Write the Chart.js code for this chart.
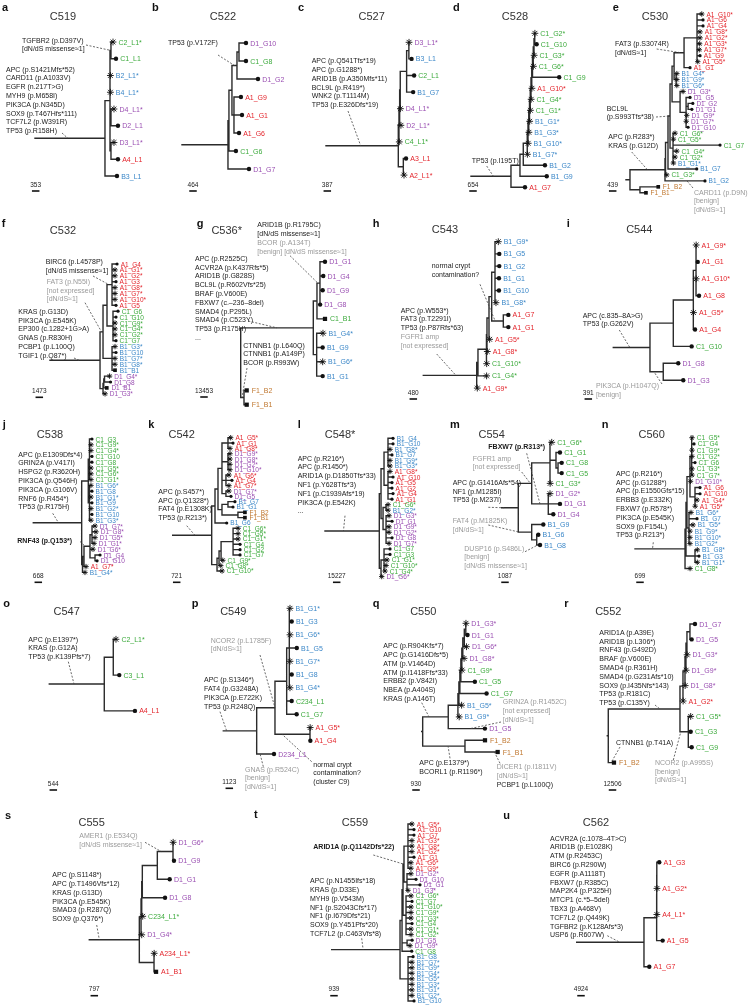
<!DOCTYPE html>
<html><head><meta charset="utf-8">
<script src="https://cdn.jsdelivr.net/npm/chart.js@4.4.1/dist/chart.umd.min.js"></script>
<style>
html,body{margin:0;padding:0;background:#fff;}
#page{position:relative;width:748px;height:1006px;overflow:hidden;font-family:"Liberation Sans",Arial,Helvetica,sans-serif;}
canvas.tree{position:absolute;left:0;top:0;}
.t{position:absolute;white-space:pre;}
.lt{font-weight:bold;font-size:11px;line-height:12px;color:#111;}
.ti{font-size:11px;line-height:12px;color:#333;transform:translateX(-50%);}
.nt{font-size:7px;line-height:8.8px;color:#1a1a1a;}
.gr{color:#9a9a9a;}
.bd{font-weight:bold;}
.tl{line-height:9px;}
.sb{font-size:6.5px;line-height:8px;color:#222;transform:translateX(-50%);}
</style></head><body><div id="page"></div><script>
// ---------------- DATA ----------------
const panelLetters = ['a','b','c','d','e','f','g','h','i','j','k','l','m','n','o','p','q','r','s','t','u'];
const panelTitles = ['C519','C522','C527','C528','C530','C532','C536*','C543','C544','C538','C542','C548*','C554','C560','C547','C549','C550','C552','C555','C559','C562'];
const scaleBarSNVs = [353,464,387,654,439,1473,13453,480,391,668,721,15227,1087,699,544,1123,930,12506,797,939,4924];
// trees in Newick; branch lengths in scale-bar units
const treeC519 = "(((C2_L1*:0.27,C1_L1:0.67)n1:0.13,B2_L1*:0.05,B4_L1*:0.05,(D4_L1*:0.4,D2_L1:0.93):0.13,(D3_L1*:0.4,A4_L1:0.93):0.13):0.67,B3_L1:1.6):9.33;";
const treeC522 = "(((((D1_G10:0.93,C1_G8:0.93):0.27,D1_G2:2.8)nV:0.67,(A1_G9:0.93,A1_G1:1.07,A1_G6:0.67):0.27):0.4,C1_G6:0.93):0.13,D1_G7:2.8):6.13;";
const treeC527 = "((((((D3_L1*:0.02,B3_L1:0.36):0.3,C2_L1:1.0,B1_G7:0.87):0.85,D4_L1*:0.02):0.08,D2_L1*:0.17):0.09,C4_L1*:0.04):0.09,(A3_L1:0.36,A2_L1*:0.09):0.67):9.64;";
const treeC528 = "((((((((((((((C1_G2*:0.02,C1_G10:0.25):0.1,C1_G3*:0.02):0.1,C1_G6*:0.02):0.1,C1_G9:3.56):0.1,A1_G10*:0.02):0.1,C1_G4*:0.02):0.1,C1_G1*:0.02):0.1,B1_G1*:0.02):0.1,B1_G3*:0.02):0.1,B1_G10*:0.02):0.1,B1_G7*:0.02):0.53,B1_G2:2.89):0.44,B1_G9:3.57):1.2,A1_G7:1.87):5.33;";
const treeC530 = "(((((((((A1_G10*:0.63,A1_G6:0.8,A1_G4:0.8,A1_G8*:0.4,A1_G2*:0.4,A1_G3*:0.35,A1_G7*:0.3,A1_G9:0.4,A1_G5*:0.1):1.73,A1_G1:0.8)nA:1.33,(B1_G4*:0.1,B1_G9*:0.1,B1_G6*:0.1):0.27):0.27,(D1_G3*:0.4,(D1_G5:0.53,(D1_G2:0.63,D1_G1:0.5):0.27,D1_G9*:0.09,D1_G7*:0.02,D1_G10:0.27):0.8):1.07):0.27,(C1_G6*:0.27,C1_G5*:0.05,C1_G7:6.27,C1_G4*:0.5,C1_G2*:0.27,B1_G1*:0.05):0.4)nX3:0.27,B1_G7:3.83):0.33,C1_G3*:0.16):0.07,B1_G2:5.33)nT:4.67,(F1_B2:2.44,F1_B1:0.8):1.33):0.53;";
const treeC532 = "((((A1_G4:0.67,A1_G1*:0.4,A1_G2*:0.4,A1_G3:0.53,A1_G8*:0.4,A1_G7*:0.4,A1_G10*:0.4,A1_G5:0.53)nA:0.67,(C1_G6:0.67,C1_G10:0.4,C1_G9*:0.27,C1_G4*:0.27,C1_G2*:0.27,C1_G7:0.4):0.8):0.53,(B1_G3*:0.4,B1_G10:0.53,B1_G7*:0.4,B1_G8*:0.4,B1_B1:0.4):1.2)nU:0.4,(((D1_G4*:0.67,D1_G8:0.8):0.1,D1_B1:0.4):0.1,D1_G3*:0.27):0.4):6.67;";
const treeC536 = "((((D1_G1:0.67,D1_G4:0.44,D1_G9:0.36,D1_G8:0.02)nD:0.4,C1_B1:1.07):0.49,(B1_G4*:0.84,B1_G9:0.8,B1_G6*:0.8,B1_G1:0.8):0.45)nT:9.68,(F1_B2:0.36,F1_B1:0.36)nF:0.44):0;";
const treeC543 = "(((((((B1_G9*:0.44,B1_G5:0.57,B1_G2:0.57,B1_G1:0.53,B1_G10:0.53,B1_G8*:0.13):0.44,(A1_G7:0.67,A1_G1:0.67)nAc:1.55):0.36,A1_G5*:0.08):0.27,A1_G8*:0.04):0.07,C1_G10*:0.03):1.13,C1_G4*:1.15):0.17,A1_G9*:0.08):7.12;";
const treeC544 = "((((A1_G9*:0.02,A1_G1:0.23,A1_G10*:0.02,A1_G8:0.4):0.36,A1_G5*:0.02,A1_G4:0.23):2.67,C1_G10:2.45):3.11,(D1_G8:2.0,D1_G3:2.67)nD:1.77):4.89;";
const treeC538 = "(((C1_G3:0.33,C1_G9*:0.2,C1_G4*:0.2,C1_G10:0.33,C1_G8:0.33,C1_G5*:0.2,C1_G6*:0.2,C1_G1*:0.2):0.16,(B1_G6*:0.2,B1_G8:0.33,B1_G1*:0.2,B1_G9:0.33,B1_G2*:0.2,B1_G10:0.33,B1_G3*:0.2):0.16):0.88,((((D1_G7*:0.4,D1_G8*:0.53,D1_G5*:0.4,D1_G1*:0.27):0.27,D1_G6*:0.4,(D1_G4:0.67,D1_G10:0.27):0.67)nDs:0.8,A1_G7*:0.27):0.2,B1_G4*:0.33):0.11):6.45;";
const treeC542 = "(((((A1_G5*:0.36,A1_G1:0.67,A1_G8*:0.27):0.8,(D1_G9*:0.27,D1_G8*:0.27,D1_G2*:0.27,D1_G10*:0.27):0.8,(A1_G6*:0.4,A1_G4:0.8,A1_G7*:0.4):0.53,(D1_G7*:0.4,D1_G5:0.67):0.53):0.53,((B1_G7:0.93,B1_G1:0.67):0.8,(F1_B2:0.93,F1_B1:0.93):2.13):0.53):0.4,B1_G6:1.56):0.44,((((C1_G6*:0.67,C1_G5*:0.67,C1_G1*:0.67,C1_G4:0.93,C1_G2:0.93,C1_G7:0.93):1.6,C1_G9*:0.23):0.27,C1_G8*:0.23):0.27,C1_G10*:0.67):0.71):5.2;";
const treeC548 = "((((B1_G4:0.67,B1_G10:0.67,B1_G8*:0.27,B1_G7:0.53,B1_G9*:0.27,B1_G3*:0.27):0.53,(A1_G8*:0.27,A1_G10:0.67,A1_G5:0.53,A1_G2:0.53,A1_G4:0.67,A1_G1:0.53):0.53):0.4,((C1_G6*:0.27,B1_G2*:0.27):0.4,(D1_G3*:0.4,D1_G1:0.8,D1_G9*:0.4,D1_G2*:0.4,D1_G8:0.8,D1_G7*:0.4):0.4):0.27):0.23,((C1_G7:0.8,C1_G3:0.8,C1_G1*:0.4,C1_G10*:0.27,C1_G4*:0.13):0.4,D1_G6*:0.09):0.23):7.24;";
const treeC554 = "(((C1_G6*:0.23,(C1_G1:0.53,(C1_G8:0.49,C1_G5:0.49):0.27):0.8,C1_G3*:0.02):2.44,(D1_G2*:0.23,D1_G1:1.56,D1_G4:0.67)nD:2.21)nCD:1.79,(B1_G9:1.55,(B1_G6:0.21,B1_G8:0.44):0.67)nB:1.79):2.21;";
const treeC560 = "(((((C1_G5*:0.04,C1_G4:0.31,C1_G9*:0.04,C1_G2*:0.04,C1_G6:0.44,C1_G3*:0.04,C1_G7*:0.04):0.23,D1_G10*:0.07,(A1_G6:0.67,A1_G10:0.67,A1_G4*:0.27,A1_G5*:0.02):0.67):0.4,(B1_G6*:0.27,B1_G7:1.07,B1_G5*:0.53,B1_G9*:0.13,B1_G10*:0.13,B1_G2*:0.13):0.27):0.13,(B1_G8*:0.31,B1_G3:0.53,B1_G1*:0.31):1.2):0.13,C1_G8*:0.67):6.67;";
const treeC547 = "((C2_L1*:0.36,C3_L1:0.8):1.2,A4_L1:4.09):7.33;";
const treeC549 = "((((B1_G1*:0.09,B1_G3:0.32,B1_G6*:0.09,B1_G5:1.0,B1_G7*:0.09,B1_G8:0.32,B1_G4*:0.09):0.35,C234_L1:0.67,C1_G7:1.33):1.56,(A1_G5*:0.02,A1_G4:0.05)nAc:4.67)nU:2.44,D234_L1:2.31):4.45;";
const treeC550 = "((((((((((D1_G3*:0.02,D1_G1:0.23):0.2,D1_G6*:0.29):0.2,D1_G8*:0.17):0.13,C1_G9*:0.02):0.13,C1_G5:1.87):0.13,C1_G7:3.56):0.13,B1_G5*:0.36):0.13,B1_G9*:0.17):1.29,D1_G5:4.89)nT:3.41,(F1_B2:2.67,F1_B1:4.36)nF:5.64):0.13;";
const treeC552 = "(((((((D1_G7:0.67,D1_G5:0.23):0.4,D1_G3*:0.02):0.13,D1_G9*:0.02):0.13,D1_G8*:0.02):0.27,A1_G2*:0.02):0.4,(C1_G5*:0.32,C1_G3:0.32,C1_G9:0.45)nC:1.11)nT:9.56,F1_B2:0.76):0.13;";
const treeC555 = "((((((D1_G6*:0.02,D1_G9:0.13)nD12:2.09,D1_G1:1.65):2.0,D1_G8:3.03):0.08,C234_L1*:0.13):0.09,D1_G4*:0.09):0.23,(A234_L1*:0.02,A1_B1:0.27):1.96):6.67;";
const treeC559 = "(((((A1_G5*:0.53,A1_G10:0.8,A1_G7:0.8,A1_G3*:0.53,A1_G8*:0.53,A1_G2*:0.53,A1_G1:0.8,A1_G6*:0.4,A1_G9*:0.4):0.53,(D1_G2*:0.53,D1_G10:1.2,D1_G1:1.73,D1_G3*:0.13):0.4)nAD:0.13,(C1_G6*:0.67,C1_G7:0.8,C1_G10*:0.67,C1_G9*:0.67,C1_G3*:0.67,C1_G4:0.8,C1_G1*:0.67,C1_G2*:0.67):0.4):0.13,(D1_G5:0.67,D1_G9*:0.4):0.67,C1_G8:1.29):0.27,(B1_G8:0.67,B1_G7*:0.53,B1_G9*:0.53,B1_G4*:0.53,B1_G5*:0.53,B1_G3*:0.53,B1_G1*:0.53,B1_G2*:0.53,B1_G10:0.8):1.07):9.11;";
const treeC562 = "((((A1_G3:0.33,A1_G2*:0.02):0.01,A4_L1*:0.02):0.01,A1_G5:0.8):1.69,A1_G7:0.71):8.97;";
const trees = [treeC519,treeC522,treeC527,treeC528,treeC530,treeC532,treeC536,treeC543,treeC544,treeC538,treeC542,treeC548,treeC554,treeC560,treeC547,treeC549,treeC550,treeC552,treeC555,treeC559,treeC562];

// ---------------- LAYOUT (page positions) ----------------
const PX_PER_UNIT = 7.5;
const G = 'g';
const LAYOUT = [
 {rootX:35,tip0:42,dy:16.75,letter:[2,7],title:[63,16],bar:[35.7,191],notes:[
   {x:22,y:41,l:["TGFBR2 (p.D397V)","[dN/dS missense≈1]"],lead:[86,45,'n1',0.5]},
   {x:6,y:70,l:["APC (p.S1421Mfs*52)","CARD11 (p.A1033V)","EGFR (n.217T>G)","MYH9 (p.M658I)","PIK3CA (p.N345D)","SOX9 (p.T467Hfs*111)","TCF7L2 (p.W391R)","TP53 (p.R158H)"],lead:[62,133,'root',0.47]}]},
 {rootX:182,tip0:43,dy:18,letter:[152,7],title:[223,16],bar:[193,191],notes:[
   {x:168,y:43,l:["TP53 (p.V172F)"],lead:[218,55,'nV',0.5]}]},
 {rootX:326,tip0:42.3,dy:16.6,letter:[298,7],title:[371.7,16],bar:[327.3,191],notes:[
   {x:311.7,y:61.7,l:["APC (p.Q541Tfs*19)","APC (p.G1288*)","ARID1B (p.A350Mfs*11)","BCL9L (p.R419*)","WNK2 (p.T1114M)","TP53 (p.E326Dfs*19)"],lead:[348,111,'root',0.48]}]},
 {rootX:471,tip0:33.3,dy:11,letter:[453,7],title:[515,16],bar:[473,191],notes:[
   {x:471.7,y:161,l:["TP53 (p.I195T)"],lead:[486.7,166,'root',0.56]}]},
 {rootX:626,tip0:14,dy:5.96,letter:[612.7,7],title:[655,16],bar:[612.7,191],notes:[
   {x:615,y:44.3,l:["FAT3 (p.S3074R)","[dN/dS≈1]"],lead:[656.7,49,'nA',0.7]},
   {x:606.7,y:109,l:["BCL9L","(p.S993Tfs*38)"],lead:[656,117,'nX3',0.8]},
   {x:608.3,y:137.3,l:["APC (p.R283*)","KRAS (p.G12D)"],lead:[631.7,152,'nT',0.5]},
   {x:694,y:193,c:G,l:["CARD11 (p.D9N)","[benign]","[dN/dS≈1]"],lead:[693,188,'B1_G2',0.55]}]},
 {rootX:50,tip0:264,dy:5.9,letter:[1.7,223.3],title:[63,230],bar:[39.3,397.3],notes:[
   {x:45.7,y:262.7,l:["BIRC6 (p.L4578P)","[dN/dS missense≈1]"],lead:[93,276,'nA',0.4]},
   {x:46.7,y:282.3,c:G,l:["FAT3 (p.N55I)","[not expressed]","[dN/dS≈1]"],lead:[85,302.7,'nU',0.5]},
   {x:18.3,y:312.3,l:["KRAS (p.G13D)","PIK3CA (p.E545K)","EP300 (c.1282+1G>A)","GNAS (p.R830H)","PCBP1 (p.L100Q)","TGIF1 (p.Q87*)"],lead:[74,358,'root',0.58]}]},
 {rootX:240.7,tip0:261.7,dy:14.3,letter:[196.7,223.3],title:[226.7,230],bar:[204,397],notes:[
   {x:257.3,y:225.7,l:["ARID1B (p.R1795C)","[dN/dS missense≈1]"]},
   {x:257.3,y:243.3,c:G,l:["BCOR (p.A134T)","[benign] [dN/dS missense≈1]"],lead:[290,255.7,'nD',0.3]},
   {x:195,y:259.3,l:["APC (p.R2525C)","ACVR2A (p.K437Rfs*5)","ARID1B (p.G828S)","BCL9L (p.R602Vfs*25)","BRAF (p.V600E)","FBXW7 (c.–236–8del)","SMAD4 (p.P295L)","SMAD4 (p.C523Y)","TP53 (p.R175H)","..."],lead:[248.3,321,'nT',0.5]},
   {x:243.3,y:346,l:["CTNNB1 (p.L640Q)","CTNNB1 (p.A149P)","BCOR (p.R993W)"],lead:[247,368,'nF',0.4]}]},
 {rootX:423.3,tip0:241.7,dy:12.2,letter:[372.7,223.3],title:[445,229.3],bar:[413.3,399],notes:[
   {x:431.7,y:266.7,l:["normal crypt","contamination?"],lead:[480,284.3,'nAc',0.3]},
   {x:400.7,y:311,l:["APC (p.W553*)","FAT3 (p.T2291I)","TP53 (p.P87Rfs*63)"],lead:[436.7,354,'root',0.61]},
   {x:400.7,y:337.4,c:G,l:["FGFR1 amp","[not expressed]"]}]},
 {rootX:613.3,tip0:245,dy:16.9,letter:[566.7,223.3],title:[639.3,229.3],bar:[588.3,399],notes:[
   {x:582.7,y:316,l:["APC (c.835–8A>G)","TP53 (p.G262V)"],lead:[619.3,330,'root',0.45]},
   {x:596,y:386.7,c:G,l:["PIK3CA (p.H1047Q)","[benign]"],lead:[662,384,'nD',0.3]}]},
 {rootX:33.3,tip0:439,dy:5.8,letter:[2.7,424.3],title:[50,434.3],bar:[38.3,582.3],notes:[
   {x:18.3,y:455,l:["APC (p.E1309Dfs*4)","GRIN2A (p.V417I)","HSPG2 (p.R3620H)","PIK3CA (p.Q546H)","PIK3CA (p.G106V)","RNF6 (p.R454*)","TP53 (p.R175H)"],lead:[52.7,513.3,'root',0.52]},
   {x:17.3,y:541,b:1,l:["RNF43 (p.Q153*)"],lead:[80,541.5,'nDs',0.2]}]},
 {rootX:172.7,tip0:437.7,dy:5.33,letter:[148.3,424.3],title:[181.7,434.3],bar:[176.7,582.3],notes:[
   {x:158.3,y:492.3,l:["APC (p.S457*)","APC (p.Q1328*)","FAT4 (p.E1308K)","TP53 (p.R213*)"],lead:[186.7,525.7,'root',0.57]}]},
 {rootX:325,tip0:438.3,dy:5.53,letter:[297.7,424.3],title:[340,434.3],bar:[336.7,582.3],notes:[
   {x:297.7,y:459,l:["APC (p.R216*)","APC (p.R1450*)","ARID1A (p.D1850Tfs*33)","NF1 (p.Y628Tfs*3)","NF1 (p.C1939Afs*19)","PIK3CA (p.E542K)","..."],lead:[345,515.7,'root',0.34]}]},
 {rootX:501.7,tip0:442.3,dy:10.27,letter:[450,424.3],title:[491.7,434.3],bar:[505,582.3],notes:[
   {x:488.3,y:447.3,b:1,l:["FBXW7 (p.R313*)"],lead:[526.7,453.3,'nD',0.5]},
   {x:472.7,y:459,c:G,l:["FGFR1 amp","[not expressed]"],lead:[521.7,472,'nCD',0.9]},
   {x:452.7,y:483.3,l:["APC (p.G1416Afs*54)","NF1 (p.M1285I)","TP53 (p.M237I)"],lead:[488.3,507.3,'root',0.15]},
   {x:452.7,y:521.7,c:G,l:["FAT4 (p.M1825K)","[dN/dS≈1]"],lead:[488.3,525,'nB',0.1]},
   {x:464.3,y:549,c:G,l:["DUSP16 (p.S486L)","[benign]","[dN/dS missense≈1]"],lead:[525,551.7,'B1_G8',0.3]}]},
 {rootX:635,tip0:437.7,dy:6.23,letter:[601.7,424.3],title:[651.7,434.3],bar:[640,582.3],notes:[
   {x:616,y:474.3,l:["APC (p.R216*)","APC (p.G1288*)","APC (p.E1550Gfs*15)","ERBB3 (p.E332K)","FBXW7 (p.R578*)","PIK3CA (p.E545K)","SOX9 (p.F154L)","TP53 (p.R213*)"],lead:[653.3,542.3,'root',0.35]}]},
 {rootX:49.3,tip0:639.3,dy:35.8,letter:[3.3,602.7],title:[66.7,611],bar:[53.3,790],notes:[
   {x:28.3,y:640,l:["APC (p.E1397*)","KRAS (p.G12A)","TP53 (p.K139Pfs*7)"],lead:[68.3,661.7,'root',0.45]}]},
 {rootX:223.3,tip0:608.3,dy:13.25,letter:[191.7,602.7],title:[233.3,611],bar:[229.3,788.3],notes:[
   {x:210.7,y:641,c:G,l:["NCOR2 (p.L1785F)","[dN/dS≈1]"],lead:[260,655,'nU',1]},
   {x:204,y:680.7,l:["APC (p.S1346*)","FAT4 (p.G3248A)","PIK3CA (p.E722K)","TP53 (p.R248Q)"],lead:[220,711.7,'root',0.1]},
   {x:313.3,y:765,l:["normal crypt","contamination?","(cluster C9)"],lead:[311.7,761.7,'nAc',0.2]},
   {x:245,y:770,c:G,l:["GNAS (p.R524C)","[benign]","[dN/dS≈1]"],lead:[263.3,766.7,'D234_L1',0.2]}]},
 {rootX:421.7,tip0:623.3,dy:11.7,letter:[372.7,602.7],title:[423.3,611],bar:[416,790],notes:[
   {x:383.3,y:646.7,l:["APC (p.R904Kfs*7)","APC (p.G1416Dfs*5)","ATM (p.V1464D)","ATM (p.I1418Ffs*33)","ERBB2 (p.V842I)","NBEA (p.A404S)","KRAS (p.A146T)"],lead:[421.7,702.7,'nT',0.25]},
   {x:502.7,y:702.7,c:G,l:["GRIN2A (p.R1452C)","[not expressed]","[dN/dS≈1]"],lead:[501,722,'D1_G5',0.6]},
   {x:419.3,y:763.3,l:["APC (p.E1379*)","BCORL1 (p.R1196*)"],lead:[450,758.3,'nF',0.6]},
   {x:496.7,y:767.3,c:G,l:["DICER1 (p.I1811V)","[dN/dS≈1]"],lead:[500,763.3,'F1_B1',0.9]},
   {x:496.7,y:785,l:["PCBP1 (p.L100Q)"]}]},
 {rootX:607.3,tip0:624,dy:15.4,letter:[564.3,602.7],title:[608.3,611],bar:[612.5,790],notes:[
   {x:599.3,y:633.3,l:["ARID1A (p.A39E)","ARID1B (p.L306*)","RNF43 (p.G492D)","BRAF (p.V600E)","SMAD4 (p.R361H)","SMAD4 (p.G231Afs*10)","SOX9 (p.I435Nfs*143)","TP53 (p.R181C)","TP53 (p.C135Y)"],lead:[655,705,'nT',0.72]},
   {x:616,y:743.3,l:["CTNNB1 (p.T41A)"],lead:[620,747,'F1_B2',0.5]},
   {x:655,y:763.3,c:G,l:["NCOR2 (p.A995S)","[benign]","[dN/dS≈1]"],lead:[673.3,760,'nC',0.1]}]},
 {rootX:89.3,tip0:842.3,dy:18.5,letter:[5,815],title:[91.7,821.7],bar:[94.3,995.7],notes:[
   {x:79.3,y:836.7,c:G,l:["AMER1 (p.E534Q)","[dN/dS missense≈1]"],lead:[145,842.3,'nD12',0.25]},
   {x:52.3,y:875.7,l:["APC (p.S1148*)","APC (p.T1496Vfs*12)","KRAS (p.G13D)","PIK3CA (p.E545K)","SMAD3 (p.R287Q)","SOX9 (p.Q376*)"],lead:[96.7,925,'root',0.2]}]},
 {rootX:331.7,tip0:824,dy:5.53,letter:[254,814.3],title:[355,822.3],bar:[334,995.7],notes:[
   {x:313.3,y:847.7,b:1,l:["ARID1A (p.Q1142Dfs*22)"],lead:[373.3,855,'nAD',0.5]},
   {x:310,y:881.7,l:["APC (p.N1455Ifs*18)","KRAS (p.D33E)","MYH9 (p.V543M)","NF1 (p.S2043Cfs*17)","NF1 (p.I679Dfs*21)","SOX9 (p.Y451Pfs*20)","TCF7L2 (p.C463Vfs*8)"],lead:[361.7,938.3,'root',0.46]}]},
 {rootX:576.7,tip0:862.3,dy:26.1,letter:[503.3,815],title:[596,822.3],bar:[581,995.7],notes:[
   {x:550,y:839,l:["ACVR2A (c.1078–4T>C)","ARID1B (p.E1028K)","ATM (p.R2453C)","BIRC6 (p.R290W)","EGFR (p.A1118T)","FBXW7 (p.R385C)","MAP2K4 (p.P325H)","MTCP1 (c.*5–5del)","TBX3 (p.A468V)","TCF7L2 (p.Q449K)","TGFBR2 (p.K128Afs*3)","USP6 (p.R607W)"],lead:[607.3,935.7,'root',0.64]}]}
];
const REGION_COLORS = {A:'#e3242b',B:'#3b87c8',C:'#3caa3c',D:'#9a4fb2',F:'#c0772f'};

// ---------------- HELPERS ----------------
function parseNewick(s){
  let i=0;
  function node(){
    const n={children:[],name:'',len:0};
    if(s[i]==='('){
      i++; n.children.push(node());
      while(s[i]===','){i++; n.children.push(node());}
      i++;
    }
    let name='';
    while(i<s.length && !',():;'.includes(s[i])) name+=s[i++];
    n.name=name.trim();
    if(s[i]===':'){i++; let num=''; while(i<s.length && !',();'.includes(s[i])) num+=s[i++]; n.len=parseFloat(num);}
    return n;
  }
  return node();
}
function layoutTree(root){
  const tips=[], nodes={}; let k=0;
  (function walk(n,px){
    n.px=px; n.x=px+n.len;
    if(n.name) nodes[n.name]=n;
    if(!n.children.length){n.y=k++; tips.push(n);}
    else{n.children.forEach(c=>walk(c,n.x)); n.y=(n.children[0].y+n.children[n.children.length-1].y)/2;}
  })(root,0);
  return {tips,nodes};
}
function branchPoints(root){
  const pts=[];
  const seg=(x1,y1,x2,y2)=>{pts.push({x:x1,y:y1},{x:x2,y:y2},{x:x2,y:null});};
  (function rec(n){
    if(n.x>n.px) seg(n.px,n.y,n.x,n.y);
    if(n.children.length){
      seg(n.x,n.children[0].y,n.x,n.children[n.children.length-1].y);
      n.children.forEach(rec);
    }
  })(root);
  return pts;
}
const page=document.getElementById('page');
function addText(cls,x,y,txt,style){
  const d=document.createElement('div'); d.className='t '+cls; d.style.left=x+'px'; d.style.top=y+'px'; d.textContent=txt;
  if(style) Object.assign(d.style,style);
  page.appendChild(d); return d;
}

// ---------------- BUILD ----------------
const W=748,H=1006;
trees.forEach((nwk,i)=>{
  const L=LAYOUT[i];
  const root=parseNewick(nwk);
  const {tips,nodes}=layoutTree(root);
  const dense=L.dy<8;
  const styles=tips.map(t=>t.name.endsWith('*')?'star':(/_B\d/.test(t.name)?'rect':'circle'));
  const radii=styles.map(s=>s==='star'?(dense?2.7:3.4):s==='rect'?(dense?2.6:3.0):(dense?1.6:2.2));
  const canvas=document.createElement('canvas'); canvas.width=W; canvas.height=H; canvas.className='tree';
  canvas.style.width=W+'px'; canvas.style.height=H+'px';
  page.appendChild(canvas);
  const decor={id:'decor'+i, afterDatasetsDraw(chart){
    const ctx=chart.ctx, xs=chart.scales.x, ys=chart.scales.y;
    ctx.save();
    ctx.strokeStyle='#444'; ctx.lineWidth=0.8; ctx.setLineDash([2,1.6]);
    L.notes.forEach(nt=>{
      if(!nt.lead) return;
      const [sx,sy,key,f]=nt.lead; const n=key==='root'?root:nodes[key]; if(!n) return;
      const tx=xs.getPixelForValue(n.px+f*(n.x-n.px)), ty=ys.getPixelForValue(n.y);
      ctx.beginPath(); ctx.moveTo(sx,sy); ctx.lineTo(tx,ty); ctx.stroke();
    });
    ctx.setLineDash([]);
    const w=xs.getPixelForValue(1)-xs.getPixelForValue(0);
    ctx.strokeStyle='#111'; ctx.lineWidth=1.6;
    ctx.beginPath(); ctx.moveTo(L.bar[0]-w/2,L.bar[1]); ctx.lineTo(L.bar[0]+w/2,L.bar[1]); ctx.stroke();
    ctx.restore();
  }};
  const chart=new Chart(canvas,{type:'scatter',
    data:{datasets:[
      {data:tips.map(t=>({x:t.x,y:t.y})),pointStyle:styles,pointRadius:radii,pointHoverRadius:radii,
       pointBackgroundColor:'#111',pointBorderColor:'#111',pointBorderWidth:styles.map(s=>s==='star'?0.9:0)},
      {type:'line',data:branchPoints(root),borderColor:'#2b2b2b',borderWidth:1.4,pointRadius:0,borderCapStyle:'square',spanGaps:false,tension:0,fill:false}
    ]},
    options:{responsive:false,animation:false,devicePixelRatio:1,events:[],
      layout:{padding:0,autoPadding:false},
      plugins:{legend:{display:false},tooltip:{enabled:false},title:{display:false}},
      scales:{
        x:{type:'linear',display:false,bounds:'data',min:-L.rootX/PX_PER_UNIT,max:(W-L.rootX)/PX_PER_UNIT},
        y:{type:'linear',display:false,bounds:'data',reverse:true,min:-L.tip0/L.dy,max:(H-L.tip0)/L.dy}
      }},
    plugins:[decor]});
  // tip labels (HTML text positioned through the chart scales)
  const fs=dense?6.5:7;
  tips.forEach((t,k)=>{
    const px=chart.scales.x.getPixelForValue(t.x), py=chart.scales.y.getPixelForValue(t.y);
    addText('tl',px+radii[k]+2,py-4.5,t.name,{fontSize:fs+'px',color:REGION_COLORS[t.name[0]]||'#333'});
  });
  // letter, title, scale label
  addText('lt',L.letter[0],L.letter[1]-6,panelLetters[i]);
  addText('ti',L.title[0],L.title[1]-6,panelTitles[i]);
  addText('sb',L.bar[0],L.bar[1]-10.5,String(scaleBarSNVs[i]));
  L.notes.forEach(nt=>{
    addText('nt'+(nt.c===G?' gr':'')+(nt.b?' bd':''),nt.x,nt.y-4.4,nt.l.join('\n'));
  });
});
</script></body></html>
